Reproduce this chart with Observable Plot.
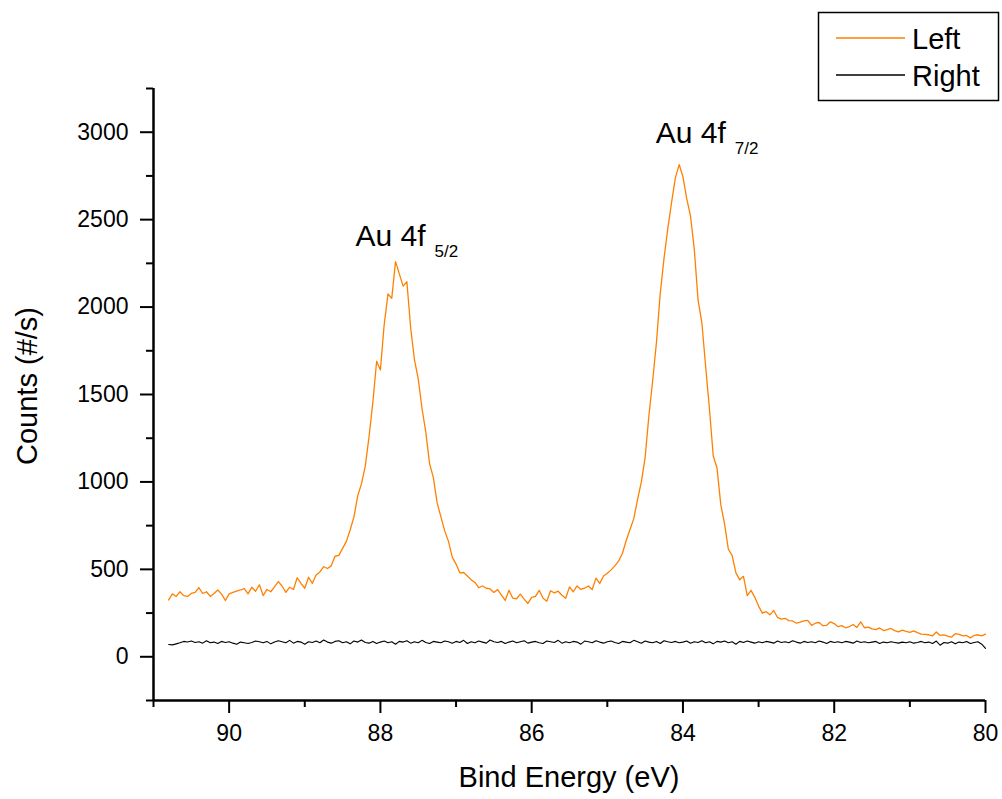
<!DOCTYPE html>
<html>
<head>
<meta charset="utf-8">
<script src="https://cdn.jsdelivr.net/npm/d3@7"></script>
<script src="https://cdn.jsdelivr.net/npm/@observablehq/plot@0.6"></script>
<style>
  html, body { margin: 0; padding: 0; background: #fff; }
  #chart svg { display: block; }
</style>
</head>
<body>
<div id="chart"></div>
<script>
// Binding-energy grid: 90.80 eV down to 80.00 eV, 0.05 eV steps
const eStart = 90.8, eStep = 0.05, nPts = 217;

// Counts (#/s) – "Left" spectrum (orange)
const leftCounts = [
  // 90.80 – 90.05
  325, 360, 345, 372, 350, 345, 362, 368, 396, 362, 372, 345, 362, 382, 358, 322,
  // 90.00 – 89.05
  360, 368, 376, 382, 390, 360, 398, 375, 412, 350, 385, 372, 400, 430, 405, 368, 398, 385, 452, 420,
  // 89.00 – 88.05
  392, 455, 420, 468, 485, 515, 505, 520, 575, 580, 620, 660, 725, 800, 920, 990, 1090, 1260, 1455, 1690,
  // 88.00 – 87.05
  1640, 1900, 2075, 2050, 2260, 2190, 2120, 2145, 1880, 1700, 1590, 1420, 1285, 1105, 1025, 880, 800, 720, 660, 570,
  // 87.00 – 86.05
  530, 480, 482, 462, 440, 425, 395, 405, 392, 388, 368, 384, 352, 322, 380, 335, 332, 358, 330, 305,
  // 86.00 – 85.05
  340, 345, 380, 335, 318, 378, 365, 375, 352, 335, 400, 372, 405, 385, 392, 405, 385, 450, 420, 462,
  // 85.00 – 84.05
  478, 497, 520, 548, 592, 665, 728, 790, 900, 1000, 1140, 1380, 1580, 1800, 2080, 2280, 2450, 2600, 2740, 2815,
  // 84.00 – 83.05
  2745, 2620, 2520, 2330, 2040, 1910, 1660, 1420, 1150, 1080, 870, 760, 615, 580, 480, 440, 460, 350, 380, 340,
  // 83.00 – 82.05
  290, 250, 258, 240, 265, 225, 215, 220, 207, 205, 192, 198, 205, 208, 180, 192, 196, 178, 180, 200,
  // 82.00 – 81.05
  190, 172, 178, 166, 172, 185, 168, 200, 166, 170, 160, 155, 165, 150, 155, 162, 150, 142, 152, 145,
  // 81.00 – 80.05
  140, 148, 138, 130, 128, 126, 120, 142, 122, 125, 118, 112, 132, 128, 120, 122, 108, 122, 126, 120,
  // 80.00
  130
];

// Counts (#/s) – "Right" spectrum (black)
const rightCounts = [
  70, 68, 74, 80, 88, 85, 90, 82, 86, 78, 92, 80, 84, 76, 88, 82,
  86, 78, 72, 84, 80, 76, 82, 90, 86, 80, 88, 74, 84, 92, 86, 80, 94, 78, 88, 84,
  72, 86, 82, 90, 80, 96, 84, 78, 88, 92, 80, 86, 74, 90, 84, 96, 82, 78, 88, 76,
  84, 90, 80, 86, 72, 88, 84, 92, 78, 86, 80, 94, 82, 76, 88, 84, 80, 90, 86, 78,
  88, 82, 94, 76, 86, 80, 90, 84, 78, 96, 86, 82, 88, 76, 84, 90, 80, 86, 92, 78,
  84, 88, 80, 76, 90, 86, 82, 94, 78, 86, 80, 88, 84, 72, 90, 86, 80, 92, 84, 78,
  86, 90, 82, 76, 88, 84, 80, 94, 86, 78, 90, 84, 80, 88, 76, 92, 86, 82, 88, 80,
  84, 90, 78, 86, 82, 92, 80, 86, 74, 88, 84, 90, 80, 86, 72, 88, 82, 90, 84, 78,
  86, 80, 88, 84, 78, 90, 82, 86, 80, 92, 84, 78, 88, 82, 86, 80, 90, 84, 76, 88,
  82, 86, 80, 88, 84, 78, 90, 82, 86, 80, 84, 88, 76, 84, 80, 86, 82, 78, 84, 80,
  86, 78, 82, 88, 80, 84, 76, 90, 66, 82, 78, 86, 74, 84, 80, 88, 76, 82, 86, 72,
  48
];

const seriesNames = ["Left", "Right"];
const seriesColors = ["#FF8000", "#000000"];

const xMajorTicks = [90, 88, 86, 84, 82, 80];
const xMinorTicks = [91, 89, 87, 85, 83, 81];
const yMajorTicks = [0, 500, 1000, 1500, 2000, 2500, 3000];
const yMinorTicks = [-250, 250, 750, 1250, 1750, 2250, 2750, 3250];

const peakLabels = [
  {label: "Au 4f", sub: "5/2", e: 88.33, c: 2349},
  {label: "Au 4f", sub: "7/2", e: 84.36, c: 2937}
];

const xTitle = "Bind Energy (eV)";
const yTitle = "Counts (#/s)";

// ---- build rows ----
const energy = d3.range(nPts).map(i => +(eStart - eStep * i).toFixed(2));
const leftRows = energy.map((e, i) => ({e, c: leftCounts[i]}));
const rightRows = energy.map((e, i) => ({e, c: rightCounts[i]}));

const FONT = "Arial, 'Liberation Sans', Helvetica, sans-serif";

const chart = Plot.plot({
  width: 1002,
  height: 799,
  marginLeft: 153,
  marginRight: 17,
  marginTop: 88,
  marginBottom: 99,
  style: {fontFamily: FONT, fontSize: "23px", background: "#fff", color: "#000", overflow: "visible"},
  x: {domain: [91, 80], label: null},
  y: {domain: [-250, 3250], label: null},
  marks: [
    Plot.line(rightRows, {x: "e", y: "c", stroke: seriesColors[1], strokeWidth: 1.1}),
    Plot.line(leftRows, {x: "e", y: "c", stroke: seriesColors[0], strokeWidth: 1.3}),
    Plot.axisX(xMajorTicks, {tickSize: 13, tickPadding: 11, strokeWidth: 2, tickFormat: d => String(d), label: null, fontSize: 23}),
    Plot.axisX(xMinorTicks, {tickSize: 7, strokeWidth: 2, tickFormat: () => "", label: null}),
    Plot.axisY(yMajorTicks, {tickSize: 13, tickPadding: 12, strokeWidth: 2, tickFormat: d => String(d), label: null, fontSize: 23}),
    Plot.axisY(yMinorTicks, {tickSize: 7, strokeWidth: 2, tickFormat: () => "", label: null}),
    Plot.ruleX([91], {stroke: "#000", strokeWidth: 2.5}),
    Plot.ruleY([-250], {stroke: "#000", strokeWidth: 2.5}),
    Plot.text(peakLabels, {x: "e", y: "c", text: "label", textAnchor: "start", lineAnchor: "bottom", fontSize: 30, fill: "#000"}),
    Plot.text(peakLabels, {x: "e", y: "c", text: "sub", textAnchor: "start", lineAnchor: "bottom", dx: 79, dy: 11, fontSize: 17, fill: "#000"})
  ]
});

document.getElementById("chart").appendChild(chart);

// ---- axis titles and legend ----
const svg = d3.select(chart);
svg.append("text")
  .attr("x", 569).attr("y", 787)
  .attr("text-anchor", "middle")
  .attr("font-family", FONT).attr("font-size", 29).attr("fill", "#000")
  .text(xTitle);
svg.append("text")
  .attr("transform", "translate(37,386) rotate(-90)")
  .attr("text-anchor", "middle")
  .attr("font-family", FONT).attr("font-size", 29).attr("fill", "#000")
  .text(yTitle);

const lg = svg.append("g");
lg.append("rect")
  .attr("x", 818.5).attr("y", 12.5).attr("width", 180).attr("height", 88)
  .attr("fill", "#fff").attr("stroke", "#000").attr("stroke-width", 1.5);
seriesNames.forEach((name, i) => {
  const yy = 38 + i * 37;
  lg.append("line")
    .attr("x1", 836).attr("x2", 905).attr("y1", yy).attr("y2", yy)
    .attr("stroke", seriesColors[i]).attr("stroke-width", 1.3);
  lg.append("text")
    .attr("x", 912).attr("y", yy + 11)
    .attr("text-anchor", "start")
    .attr("font-family", FONT).attr("font-size", 29).attr("fill", "#000")
    .text(name);
});
</script>
</body>
</html>
